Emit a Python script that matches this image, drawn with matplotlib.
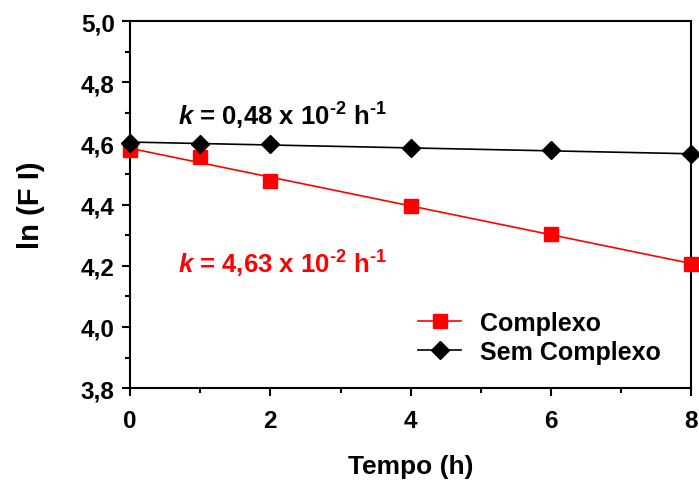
import numpy as np
import matplotlib
matplotlib.use("Agg")
import matplotlib.pyplot as plt
from matplotlib.ticker import MultipleLocator
from matplotlib.lines import Line2D

plt.rcParams['font.family'] = ['Liberation Sans', 'DejaVu Sans']
plt.rcParams['font.weight'] = 'bold'
plt.rcParams['mathtext.fontset'] = 'custom'
plt.rcParams['mathtext.rm'] = 'Liberation Sans:bold'
plt.rcParams['mathtext.it'] = 'Liberation Sans:italic:bold'
plt.rcParams['mathtext.bf'] = 'Liberation Sans:bold'

tempo = [0, 1, 2, 4, 6, 8]
complexo = [4.578, 4.555, 4.476, 4.396, 4.305, 4.206]
sem_complexo = [4.603, 4.599, 4.597, 4.586, 4.578, 4.564]

fig = plt.figure(figsize=(6.99, 4.81), dpi=100)
ax = fig.add_axes([0.186, 0.191, 0.803, 0.763])

xs = np.array(tempo, dtype=float)
for y, color, marker, ms in [(complexo, '#ff0000', 's', 10.5), (sem_complexo, 'black', 'D', 9)]:
    p = np.polyfit(xs, y, 1)
    xf = np.array([xs.min(), xs.max()])
    ax.plot(xf, np.polyval(p, xf), color=color, lw=1.2, clip_on=False, zorder=2)
    ax.plot(xs, y, linestyle='none', marker=marker, color=color, ms=ms, clip_on=False, zorder=3)

ax.set_xlim(0, 8)
ax.set_ylim(3.8, 5.0)
ax.xaxis.set_major_locator(MultipleLocator(2))
ax.xaxis.set_minor_locator(MultipleLocator(1))
ax.yaxis.set_major_locator(MultipleLocator(0.2))
ax.yaxis.set_minor_locator(MultipleLocator(0.1))
ax.yaxis.set_major_formatter(plt.FuncFormatter(lambda v, pos: f"{v:.1f}".replace('.', ',')))
ax.xaxis.set_major_formatter(plt.FuncFormatter(lambda v, pos: f"{v:.0f}"))
ax.tick_params(which='major', direction='out', length=6, width=1.5, labelsize=17.5)
ax.tick_params(axis='y', which='major', pad=5)
ax.tick_params(axis='x', which='major', pad=9)
ax.tick_params(which='minor', direction='out', length=3.5, width=1.5)
ax.tick_params(top=False, right=False, which='both')
for s in ax.spines.values():
    s.set_linewidth(1.5)

ax.set_xlabel('Tempo (h)', fontsize=19, fontweight='bold', labelpad=16)
ax.set_ylabel('ln (F I)', fontsize=21, fontweight='bold', labelpad=26)

ax.text(0.0856, 0.719, r'$\mathit{k}$ = 0,48 x 10$^{\text{-2}}$ h$^{\text{-1}}$', transform=ax.transAxes,
        fontsize=18.5, fontweight='bold', color='black', va='baseline')
ax.text(0.0856, 0.316, r'$\mathit{k}$ = 4,63 x 10$^{\text{-2}}$ h$^{\text{-1}}$', transform=ax.transAxes,
        fontsize=18.5, fontweight='bold', color='#ff0000', va='baseline')

handles = [Line2D([], [], color='#ff0000', marker='s', ms=10.5, lw=1.2),
           Line2D([], [], color='black', marker='D', ms=9, lw=1.2)]
ax.legend(handles, ['Complexo', 'Sem Complexo'], loc='lower right', bbox_to_anchor=(0.985, 0.005),
          frameon=False, prop={'size': 18, 'weight': 'bold'}, handlelength=1.7,
          labelspacing=0.2, handletextpad=0.75)

fig.savefig('out.png', dpi=100)
